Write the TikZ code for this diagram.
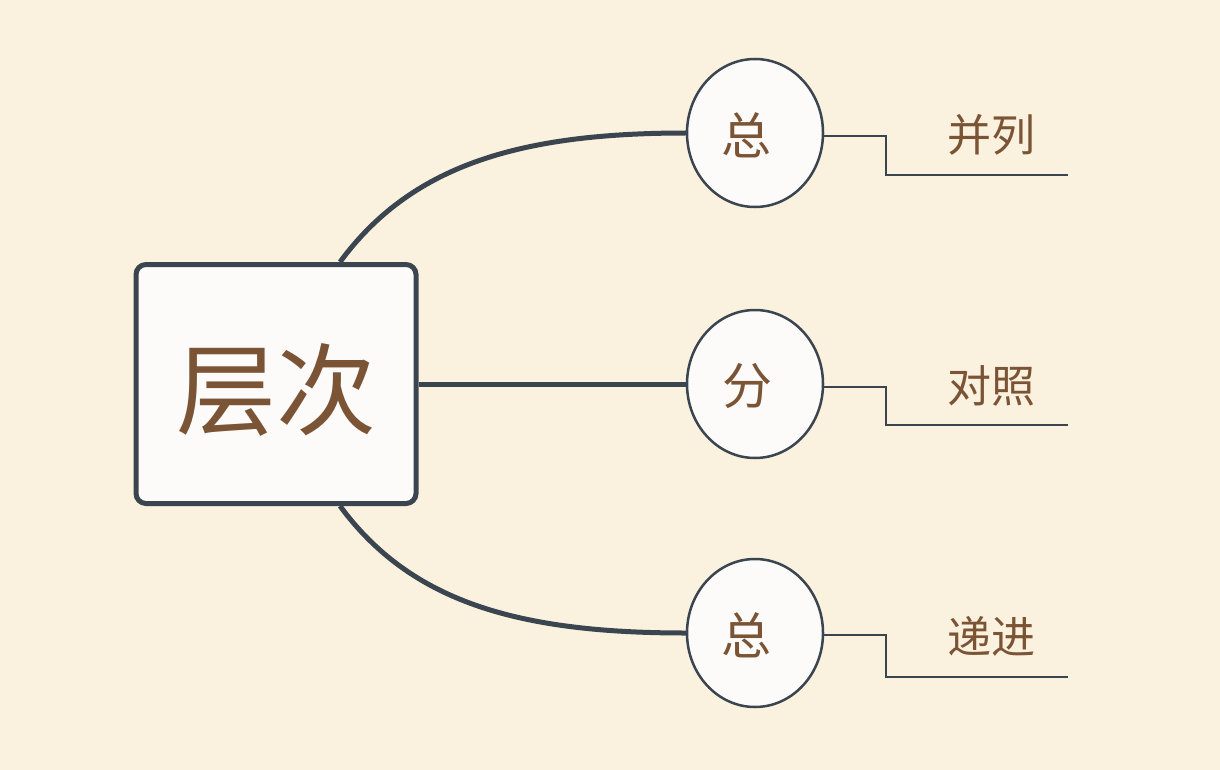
\documentclass[tikz,border=0pt]{standalone}
\usepackage{fontspec}
\newfontfamily\cjk{Noto Sans CJK SC}
\usetikzlibrary{positioning,calc,shapes.geometric}
\definecolor{paper}{HTML}{FAF1DE}
\definecolor{ink}{HTML}{3B4550}
\definecolor{brown}{HTML}{7B5436}
\definecolor{boxfill}{HTML}{FCFBFA}

\begin{document}
\begin{tikzpicture}[
    x=1pt,y=-1pt,
    topic/.style={draw=ink,line width=5pt,fill=boxfill,rounded corners=10pt,
        minimum width=280pt,minimum height=239pt,text=brown,
        font=\cjk\fontsize{100}{110}\selectfont},
    part/.style={ellipse,draw=ink,line width=2.5pt,fill=boxfill,
        minimum width=136pt,minimum height=148pt,inner sep=0pt,text=brown,
        font=\cjk\fontsize{50}{54}\selectfont},
    leaf/.style={text=brown,inner sep=0pt,font=\cjk\fontsize{44}{48}\selectfont},
    trunk/.style={draw=ink,line width=5pt},
    twig/.style={draw=ink,line width=2.2pt}]
\fill[paper] (0,0) rectangle (1220,770);
\node[topic] (layer) at (276,384) {\raisebox{-6pt}[\height][\depth]{层次}};
\node[part] (whole1) at (755,133) {\kern-18pt\raisebox{-2pt}[\height][\depth]{总}};
\node[part] (split) at (755,384) {\kern-16pt\raisebox{-2pt}[\height][\depth]{分}};
\node[part] (whole2) at (755,633) {\kern-18pt\raisebox{-2pt}[\height][\depth]{总}};
\node[leaf] (parallel) at (991,135) {并列};
\node[leaf] (contrast) at (991,386) {对照};
\node[leaf] (progress) at (991,636) {递进};
\coordinate (end1) at (1068,175);
\coordinate (end2) at (1068,425);
\coordinate (end3) at (1068,677);
% branches from the topic
\draw[trunk] ([xshift=64pt]layer.north) .. controls +(70,-95) and +(-170,0) .. (whole1.west);
\draw[trunk] (layer.east)--(split.west);
\draw[trunk] ([xshift=64pt]layer.south) .. controls +(70,95) and +(-170,0) .. (whole2.west);
% steps out to the labels
\draw[twig] ([yshift=-3pt]whole1.east) -- ++(62,0) |- (end1);
\draw[twig] ([yshift=-3pt]split.east) -- ++(62,0) |- (end2);
\draw[twig] ([yshift=-2pt]whole2.east) -- ++(62,0) |- (end3);
\end{tikzpicture}
\end{document}
